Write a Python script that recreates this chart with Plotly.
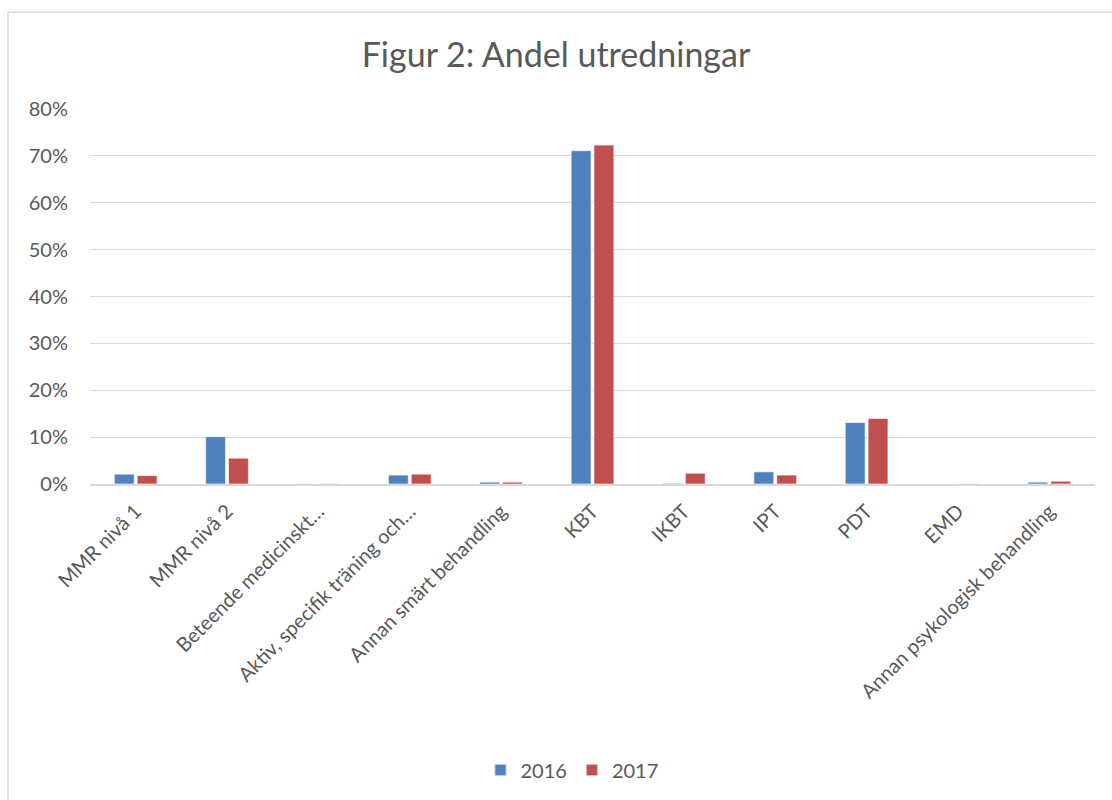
import plotly.graph_objects as go

categories = [
    "MMR nivå 1",
    "MMR nivå 2",
    "Beteende medicinskt…",
    "Aktiv, specifik träning och…",
    "Annan smärt behandling",
    "KBT",
    "IKBT",
    "IPT",
    "PDT",
    "EMD",
    "Annan psykologisk behandling",
]
values_2016 = [0.021, 0.101, 0.0005, 0.019, 0.004, 0.711, 0.0015, 0.026, 0.131, 0.0, 0.004]
values_2017 = [0.018, 0.055, 0.001, 0.021, 0.004, 0.723, 0.023, 0.019, 0.140, 0.0005, 0.006]
series_names = ["2016", "2017"]
colors = ["#4F81BD", "#C0504D"]
y_ticks = [0, 0.1, 0.2, 0.3, 0.4, 0.5, 0.6, 0.7, 0.8]

W, H = 1112, 800
L, R, T, B = 90, 1095, 109, 485
pw, ph = R - L, B - T

FONT = "Lato, 'Open Sans', sans-serif"
GREY = "#595959"

fig = go.Figure()
for name, vals, col in zip(series_names, [values_2016, values_2017], colors):
    fig.add_trace(go.Bar(
        x=categories, y=vals, name=name,
        marker=dict(color=col, line=dict(color="rgba(255,255,255,0.6)", width=1)),
        hoverinfo="x+y",
    ))

def px_x(x):
    return (x - L) / pw

def px_y(y):
    return (B - y) / ph

fig.update_layout(
    width=W, height=H,
    margin=dict(l=L, r=W - R, t=T, b=H - B, pad=0),
    paper_bgcolor="white", plot_bgcolor="white",
    barmode="group", bargap=0.5, bargroupgap=0.13,
    font=dict(family=FONT, color=GREY, size=20),
    title=dict(text="Figur 2: Andel utredningar", x=0.5, xanchor="center",
               y=1 - 55 / H, yanchor="middle",
               font=dict(family=FONT, size=34, color=GREY)),
    xaxis=dict(tickangle=-45, showgrid=False, showline=True, linecolor="#d9d9d9",
               linewidth=1.5, ticks="", ticklabelstandoff=6,
               tickfont=dict(size=20, color=GREY)),
    yaxis=dict(range=[0, 0.8], tickvals=y_ticks, tickformat=".0%",
               showgrid=True, gridcolor="#d9d9d9", gridwidth=1.3, zeroline=False,
               showline=False, ticks="", ticklen=0, ticklabelstandoff=21,
               tickfont=dict(size=20, color=GREY)),
    legend=dict(orientation="h", x=px_x(572), xanchor="center", y=px_y(770), yanchor="middle",
                font=dict(size=20, color=GREY), traceorder="normal",
                itemwidth=30, itemsizing="constant"),
    shapes=[dict(type="rect", xref="paper", yref="paper",
                 x0=px_x(8), x1=px_x(W + 20), y0=px_y(12), y1=px_y(H + 20),
                 line=dict(color="#d9d9d9", width=1.5), fillcolor="rgba(0,0,0,0)",
                 layer="below")],
)

fig.write_html("out.html", config={"displayModeBar": False},
               post_script="document.body.style.margin='0px';document.body.style.overflow='hidden';")
